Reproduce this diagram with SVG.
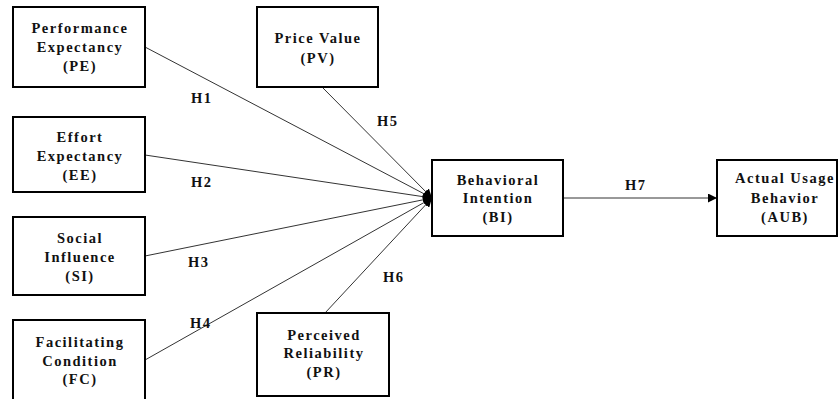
<svg xmlns="http://www.w3.org/2000/svg" width="838" height="399" viewBox="0 0 838 399">
<style>
.box{fill:#fff;stroke:#000;stroke-width:2}
.t{text-anchor:middle}
.c{stroke:#333;stroke-width:1;fill:none;marker-end:url(#ah)}
</style>
<defs>
<marker id="ah" viewBox="0 0 10 10" refX="10" refY="5" markerWidth="9" markerHeight="9" markerUnits="userSpaceOnUse" orient="auto">
<path d="M0,0 L10,5 L0,10 z" fill="#000"/>
</marker>
</defs>
<rect width="838" height="399" fill="#fff"/>
<g font-family="Liberation Serif, Times New Roman, serif" font-weight="bold" font-size="14.5" letter-spacing="1.5" fill="#111">
<g id="connectors">
<line class="c" x1="145" y1="47" x2="432" y2="198"/>
<line class="c" x1="145" y1="155" x2="432" y2="198"/>
<line class="c" x1="145" y1="256" x2="432" y2="198"/>
<line class="c" x1="145" y1="360" x2="432" y2="198"/>
<line class="c" x1="322" y1="87" x2="432" y2="198"/>
<line class="c" x1="325" y1="313" x2="432" y2="198"/>
<line class="c" x1="563" y1="198" x2="717" y2="198"/>
<text x="191" y="103">H1</text>
<text x="191" y="187">H2</text>
<text x="188" y="267">H3</text>
<text x="190" y="328">H4</text>
<text x="377" y="126">H5</text>
<text x="383" y="282">H6</text>
<text x="625" y="190">H7</text>
</g>
<g id="PE">
<rect class="box" x="13" y="7" width="132" height="80"/>
<text class="t" x="80" y="33">Performance</text>
<text class="t" x="80" y="52">Expectancy</text>
<text class="t" x="80" y="71">(PE)</text>
</g>
<g id="EE">
<rect class="box" x="13" y="117" width="132" height="75"/>
<text class="t" x="80" y="142">Effort</text>
<text class="t" x="80" y="161">Expectancy</text>
<text class="t" x="80" y="180">(EE)</text>
</g>
<g id="SI">
<rect class="box" x="13" y="217" width="132" height="78"/>
<text class="t" x="80" y="243">Social</text>
<text class="t" x="80" y="262">Influence</text>
<text class="t" x="80" y="281">(SI)</text>
</g>
<g id="FC">
<rect class="box" x="13" y="320" width="132" height="85"/>
<text class="t" x="80" y="347">Facilitating</text>
<text class="t" x="80" y="366">Condition</text>
<text class="t" x="80" y="384">(FC)</text>
</g>
<g id="PV">
<rect class="box" x="257" y="7" width="121" height="80"/>
<text class="t" x="318" y="43">Price Value</text>
<text class="t" x="318" y="63">(PV)</text>
</g>
<g id="PR">
<rect class="box" x="257" y="313" width="132" height="83"/>
<text class="t" x="324" y="340">Perceived</text>
<text class="t" x="324" y="358">Reliability</text>
<text class="t" x="324" y="377">(PR)</text>
</g>
<g id="BI">
<rect class="box" x="432" y="160" width="131" height="76"/>
<text class="t" x="498" y="185">Behavioral</text>
<text class="t" x="498" y="203">Intention</text>
<text class="t" x="498" y="222">(BI)</text>
</g>
<g id="AUB">
<rect class="box" x="717" y="160" width="120" height="76"/>
<text class="t" x="785" y="183">Actual Usage</text>
<text class="t" x="785" y="203">Behavior</text>
<text class="t" x="785" y="222">(AUB)</text>
</g>
</g>
</svg>
